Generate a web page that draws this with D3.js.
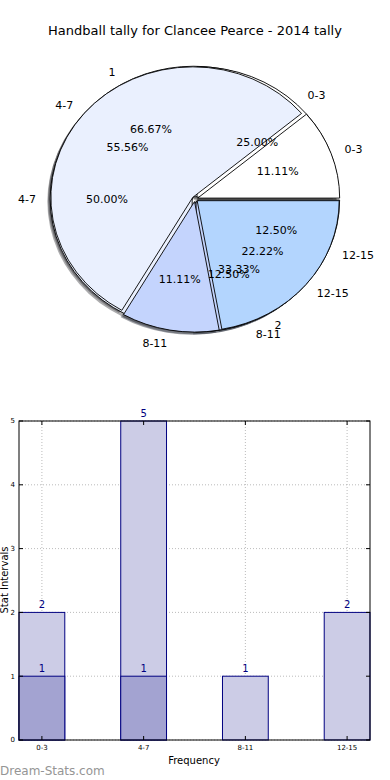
<!DOCTYPE html>
<html>
<head>
<meta charset="utf-8">
<script src="https://cdn.jsdelivr.net/npm/d3@7"></script>
<style>
  body { margin: 0; background: #fff; }
  text { font-family: "DejaVu Sans", sans-serif; }
</style>
</head>
<body>
<svg id="chart" width="390" height="780"></svg>
<script>
// data
var categories = ['0-3', '4-7', '8-11', '12-15'];
var pieEightVals = [2, 4, 1, 1];      // 25 / 50 / 12.5 / 12.5
var pieNineVals = [1, 5, 1, 2];       // 11.11 / 55.56 / 11.11 / 22.22
var pieSplitVals = [2, 1];            // 66.67 / 33.33
var pieSplitLabels = ['1', '2'];
var barTotals = [2, 5, 1, 2];
var barLower = [1, 1, 0, 0];
var yTicks = [0, 1, 2, 3, 4, 5];

var pieColors = ['#ffffff', '#eaf0fe', '#c4d4fd', '#b3d5fe'];

var svg = d3.select('#chart');

svg.append('text')
  .attr('x', 195).attr('y', 35)
  .attr('text-anchor', 'middle')
  .attr('font-size', 13)
  .text('Handball tally for Clancee Pearce - 2014 tally');

// ---- pie part ----
var cx = 195, cy = 199, rx = 142, ry = 130.5;
var explode = 0.02;

var pie = d3.pie().sort(null)
  .startAngle(Math.PI / 2)
  .endAngle(Math.PI / 2 - 2 * Math.PI);
var unitArc = d3.arc().innerRadius(0).outerRadius(1);
var pct = d3.format('.2f');

var pies = [
  {vals: pieSplitVals, labels: pieSplitLabels, colors: [pieColors[1], pieColors[2]]},
  {vals: pieEightVals, labels: categories, colors: pieColors},
  {vals: pieNineVals, labels: categories, colors: pieColors}
];

function shift(d) {
  var a = (d.startAngle + d.endAngle) / 2;
  return [explode * rx * Math.sin(a), -explode * ry * Math.cos(a)];
}

var shadowG = svg.append('g');
var wedgeG = svg.append('g');
var textG = svg.append('g');

pies.forEach(function(p) {
  var arcs = pie(p.vals);
  var total = d3.sum(p.vals);

  shadowG.selectAll(null).data(arcs).enter().append('path')
    .attr('d', unitArc)
    .attr('transform', function(d) {
      var s = shift(d);
      return 'translate(' + (cx + s[0] - 0.02 * rx) + ',' + (cy + s[1] + 0.02 * ry) + ') scale(' + rx + ',' + ry + ')';
    })
    .attr('fill', function(d, i) {
      var c = d3.rgb(p.colors[i]);
      return d3.rgb(c.r * 0.3, c.g * 0.3, c.b * 0.3);
    })
    .attr('fill-opacity', 0.45)
    .attr('stroke', 'none');

  wedgeG.append('g').selectAll(null).data(arcs).enter().append('path')
    .attr('d', unitArc)
    .attr('transform', function(d) {
      var s = shift(d);
      return 'translate(' + (cx + s[0]) + ',' + (cy + s[1]) + ') scale(' + rx + ',' + ry + ')';
    })
    .attr('fill', function(d, i) { return p.colors[i]; })
    .attr('stroke', '#000')
    .attr('stroke-width', 0.9)
    .attr('vector-effect', 'non-scaling-stroke');

  arcs.forEach(function(d, i) {
    var a = (d.startAngle + d.endAngle) / 2;
    var s = shift(d);
    textG.append('text')
      .attr('x', cx + s[0] + 1.1 * rx * Math.sin(a))
      .attr('y', cy + s[1] - 1.1 * ry * Math.cos(a))
      .attr('dy', '0.35em')
      .attr('text-anchor', Math.sin(a) > 0 ? 'start' : 'end')
      .attr('font-size', 11)
      .text(p.labels[i]);
    textG.append('text')
      .attr('x', cx + s[0] + 0.6 * rx * Math.sin(a))
      .attr('y', cy + s[1] - 0.6 * ry * Math.cos(a))
      .attr('dy', '0.35em')
      .attr('text-anchor', 'middle')
      .attr('font-size', 11)
      .text(pct(p.vals[i] / total * 100) + '%');
  });
});

// ---- bar part ----
var plotLeft = 19, plotRight = 370, plotTop = 421, plotBottom = 740;
var x = d3.scaleLinear().domain([-0.225, 3.225]).range([plotLeft, plotRight]);
var y = d3.scaleLinear().domain([0, 5]).range([plotBottom, plotTop]);
var barW = 0.45;

var bars = svg.append('g');

// grid
bars.selectAll(null).data(yTicks).enter().append('line')
  .attr('x1', plotLeft).attr('x2', plotRight)
  .attr('y1', function(d) { return y(d); }).attr('y2', function(d) { return y(d); })
  .attr('stroke', '#aaa').attr('stroke-width', 0.8).attr('stroke-dasharray', '1,2');
bars.selectAll(null).data(categories).enter().append('line')
  .attr('x1', function(d, i) { return x(i); }).attr('x2', function(d, i) { return x(i); })
  .attr('y1', plotTop).attr('y2', plotBottom)
  .attr('stroke', '#aaa').attr('stroke-width', 0.8).attr('stroke-dasharray', '1,2');

function drawBars(vals, fill) {
  vals.forEach(function(v, i) {
    if (v <= 0) return;
    bars.append('rect')
      .attr('x', x(i - barW / 2))
      .attr('y', y(v))
      .attr('width', x(i + barW / 2) - x(i - barW / 2))
      .attr('height', y(0) - y(v))
      .attr('fill', fill)
      .attr('stroke', '#000080')
      .attr('stroke-width', 1);
    bars.append('text')
      .attr('x', x(i))
      .attr('y', y(v) - 4)
      .attr('text-anchor', 'middle')
      .attr('font-size', 10)
      .attr('fill', '#000080')
      .text(v);
  });
}
drawBars(barTotals, '#ccccE6');
drawBars(barLower, '#a3a3d1');

// frame
bars.append('rect')
  .attr('x', plotLeft).attr('y', plotTop)
  .attr('width', plotRight - plotLeft).attr('height', plotBottom - plotTop)
  .attr('fill', 'none').attr('stroke', '#000').attr('stroke-width', 1);

// ticks
yTicks.forEach(function(t) {
  bars.append('line').attr('x1', plotLeft).attr('x2', plotLeft + 4)
    .attr('y1', y(t)).attr('y2', y(t)).attr('stroke', '#000');
  bars.append('line').attr('x1', plotRight).attr('x2', plotRight - 4)
    .attr('y1', y(t)).attr('y2', y(t)).attr('stroke', '#000');
  bars.append('text').attr('x', plotLeft - 4).attr('y', y(t))
    .attr('dy', '0.35em').attr('text-anchor', 'end')
    .attr('font-size', 7).text(t);
});
categories.forEach(function(c, i) {
  bars.append('line').attr('x1', x(i)).attr('x2', x(i))
    .attr('y1', plotBottom).attr('y2', plotBottom - 4).attr('stroke', '#000');
  bars.append('line').attr('x1', x(i)).attr('x2', x(i))
    .attr('y1', plotTop).attr('y2', plotTop + 4).attr('stroke', '#000');
  bars.append('text').attr('x', x(i)).attr('y', plotBottom + 10)
    .attr('text-anchor', 'middle').attr('font-size', 7).text(c);
});

svg.append('text')
  .attr('x', 194).attr('y', 764)
  .attr('text-anchor', 'middle').attr('font-size', 10)
  .text('Frequency');
svg.append('text')
  .attr('transform', 'translate(7.5,580) rotate(-90)')
  .attr('text-anchor', 'middle').attr('font-size', 10)
  .text('Stat Intervals');

svg.append('text')
  .attr('x', 0).attr('y', 775)
  .attr('font-size', 12).attr('fill', '#959595')
  .text('Dream-Stats.com');
</script>
</body>
</html>
